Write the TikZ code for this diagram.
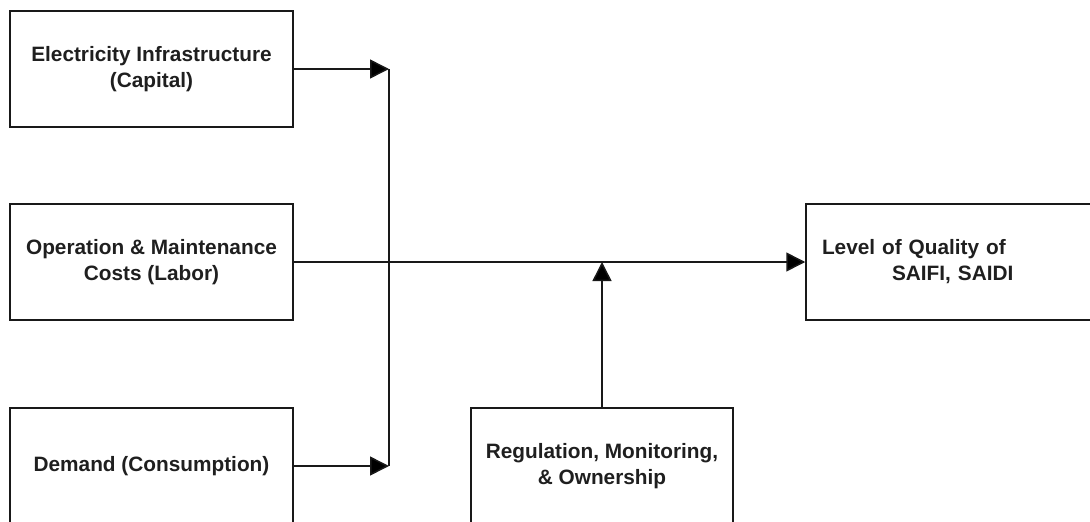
\documentclass[tikz,border=0pt]{standalone}
\usepackage{fontspec}
\setmainfont{Liberation Sans}
\usetikzlibrary{arrows.meta,positioning}

\begin{document}
\begin{tikzpicture}[x=1pt,y=-1pt,
  box/.style={draw=black!90,line width=1.5pt,minimum width=283pt,minimum height=116pt,
    align=center,text=black!88,font=\fontsize{20.8}{26}\selectfont\bfseries},
  >={Triangle[length=19pt,width=19pt]}]
\useasboundingbox (0,0) rectangle (1090,522);
\clip (0,0) rectangle (1090,522);
\node[box] (infra) at (151.5,69) {Electricity Infrastructure\\(Capital)};
\node[box] (ops) at (151.5,262) {Operation \& Maintenance\\Costs (Labor)};
\node[box] (dem) at (151.5,466) {Demand (Consumption)};
\node[box,minimum width=262pt] (reg) at (602,466) {Regulation, Monitoring,\\\& Ownership};
\node[box,minimum width=300pt,text width=268pt,inner xsep=16pt,align=left] (qual) at (956,262)
  {Level of Quality of\\\hspace*{70pt}SAIFI, SAIDI};
\coordinate (jt) at (389,69);
\coordinate (jb) at (389,466);
\path[->,line width=1.5pt,draw=black!90]
(infra) edge (jt)
(dem) edge (jb)
(ops) edge (qual)
(reg) edge (reg.north |- ops.east);
\draw[line width=1.5pt,draw=black!90] (jt) -- (jb);
\end{tikzpicture}
\end{document}
